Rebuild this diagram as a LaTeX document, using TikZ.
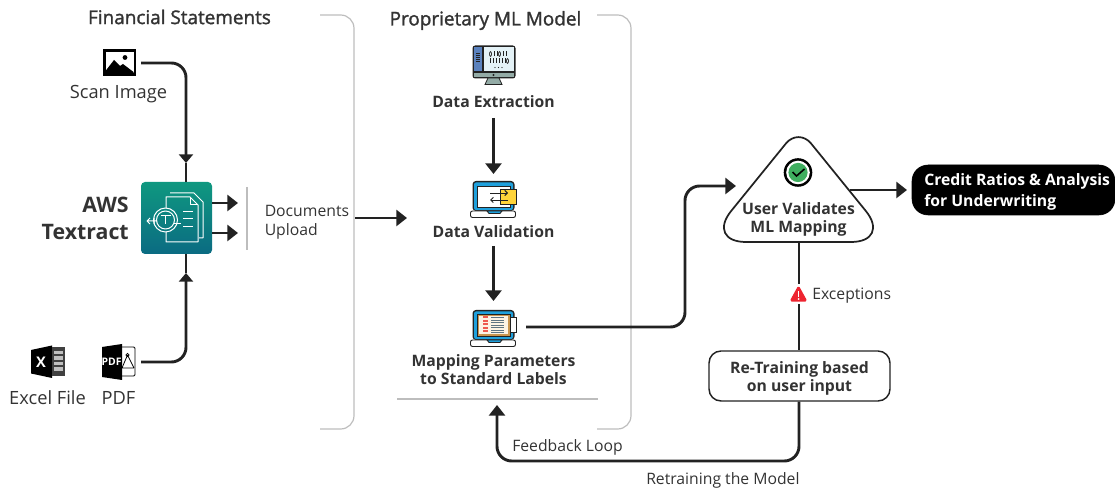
\documentclass[tikz,border=0pt]{standalone}
\usepackage{fontspec}
\setmainfont{Open Sans}
\newfontface\semi[FakeBold=1.5]{Open Sans}
\usetikzlibrary{arrows.meta}
\definecolor{ink}{HTML}{222222}
\definecolor{txt}{HTML}{333333}
\definecolor{rulegray}{HTML}{BDBDBD}
\definecolor{tealtop}{HTML}{0F9880}
\definecolor{tealbot}{HTML}{0B6B82}
\definecolor{scr}{HTML}{E4F2F7}
\definecolor{side}{HTML}{5B82BE}
\definecolor{base}{HTML}{93ABA6}
\definecolor{lapblue}{HTML}{1FA0DC}
\definecolor{yel}{HTML}{FFD43A}
\definecolor{tan}{HTML}{C9954F}
\definecolor{cream}{HTML}{FDF3E4}
\definecolor{redbar}{HTML}{EE5A4E}
\definecolor{slate}{HTML}{5F7482}
\definecolor{okgreen}{HTML}{3FAE5F}
\definecolor{warn}{HTML}{EE2430}
\newcommand{\fs}[1]{\fontsize{#1}{#1}\selectfont}
\tikzset{
  conn/.style={draw=ink,line width=2.2pt,rounded corners=11pt,-{Triangle[length=8pt,width=12pt]}},
  connsmall/.style={draw=ink,line width=2.2pt,rounded corners=11pt,-{Triangle[length=6.5pt,width=10.5pt]}},
  plain/.style={draw=ink,line width=2.2pt,rounded corners=11pt},
  brk/.style={draw=rulegray,line width=0.9pt,rounded corners=10pt},
  head/.style={font=\semi\fs{14.2},text=txt,inner sep=0pt},
  lab/.style={font=\fs{13.7},text=txt,inner sep=0pt},
  smalllab/.style={font=\fs{11.8},text=txt,inner sep=0pt},
  stepname/.style={font=\bfseries\fs{11.8},text=txt,inner sep=0pt,align=center},
}
\begin{document}
\begin{tikzpicture}[x=0.75pt,y=-0.75pt]
\useasboundingbox (0,0) rectangle (1115,491);
% brackets
\draw[brk] (320,15) -- (354,15) -- (354,429) -- (320,429);
\draw[brk] (597,15) -- (631,15) -- (631,429) -- (597,429);
\draw[rulegray,line width=0.9pt] (397,399) -- (598,399);
\draw[rulegray,line width=0.9pt] (247,187) -- (247,250);
% titles
\node[head] (tfin) at (179.5,17) {Financial Statements};
\node[head] (tml) at (485.5,20.5) {Proprietary ML Model};
% image icon
\coordinate (imgE) at (141,63);
\fill[black] (103,49.5) rectangle (136,76);
\fill[white] (105.5,52) rectangle (133.5,73.5);
\fill[black] (105.5,73.5) -- (105.5,71) -- (114,60) -- (120,66) -- (123,64) -- (133.5,72) -- (133.5,73.5) -- cycle;
\fill[black] (125,57.5) circle (2.4);
\node[lab] (scan) at (118.5,94.5) {Scan Image};
% AWS box
\shade[top color=tealtop,bottom color=tealbot,rounded corners=3pt] (141,182) rectangle (212,254);
\node[inner sep=0pt,minimum width=53.25pt,minimum height=54pt] (aws) at (176.5,218) {};
\begin{scope}[draw=white,line width=0.75pt,line join=round]
\draw (170,193) -- (194,193) -- (203,202) -- (203,238) -- (199,238);
\draw (166,208) -- (166,197) -- (190,197) -- (198,205) -- (198,242) -- (166,242) -- (166,232);
\draw (190,197) -- (190,205) -- (198,205);
\draw (165.5,220) circle (12);
\draw (165.5,220) circle (9);
\draw (160.5,215.5) -- (170.5,215.5) (165.5,215.5) -- (165.5,224);
\draw (174,224) -- (181,224);
\draw (183,212) -- (193,212) (183,219) -- (193,219) (183,227) -- (193,227);
\draw (147,221) -- (157,221) (150,218) -- (147,221) -- (150,224) (154,218) -- (154,224);
\end{scope}
\node[font=\bfseries\fs{16},text=txt,inner sep=0pt,anchor=east] (awsa) at (129,204.5) {AWS};
\node[font=\bfseries\fs{16},text=txt,inner sep=0pt,anchor=east] (awsb) at (129,231.5) {Textract};
% AWS in/out
\coordinate (inT) at (186,163);
\coordinate (inB) at (186,273);
\coordinate (awsT) at (186,182);
\coordinate (awsBt) at (186,254);
\coordinate (pdfE) at (141,362);
\draw[connsmall] (imgE) -- (inT |- imgE) -- (inT);
\draw[plain] (inT) -- (awsT);
\draw[connsmall] (pdfE) -- (inB |- pdfE) -- (inB);
\draw[plain] (inB) -- (awsBt);
\coordinate (o1) at (212,203); \coordinate (o1e) at (238,203);
\coordinate (o2) at (212,233); \coordinate (o2e) at (238,233);
\draw[conn] (o1) -- (o1e);
\draw[conn] (o2) -- (o2e);
\node[smalllab,anchor=west] (docs) at (264.5,210.5) {Documents};
\node[smalllab,anchor=west] (upl) at (264.5,231.5) {Upload};
\coordinate (uS) at (355,218); \coordinate (uE) at (407,218);
\draw[conn] (uS) -- (uE);
% Excel icon
\fill[black] (31,350) -- (52,345.5) -- (52,378) -- (31,373.5) -- cycle;
\fill[black!75] (52,347) rectangle (65,376);
\foreach \y in {351,356.5,362,367.5} \fill[black!25] (54,\y) rectangle (63,\y+3.5);
\node[font=\bfseries\fs{11},text=white,inner sep=0pt] (xl) at (41,362) {X};
\node[lab] (excel) at (47.5,398) {Excel File};
% PDF icon
\fill[black] (102,347) -- (122,344) -- (122,380) -- (102,377) -- cycle;
\draw[black,line width=0.7pt,rounded corners=1pt] (122,347) -- (135,347) -- (135,376) -- (122,376);
\draw[black,line width=0.6pt] (127.5,355) -- (122,368) -- (134,368) (127.5,355) -- (134,368);
\draw[black,line width=0.6pt] (127.5,355) circle (1.6);
\node[font=\bfseries\fs{7.8},text=white,inner sep=0pt] (pdft) at (111.5,362) {PDF};
\node[lab] (pdf) at (118.5,398) {PDF};
% Data extraction icon
\fill[ink,rounded corners=2pt] (472.5,45.5) rectangle (515.5,78.5);
\fill[scr] (484,47) rectangle (514,71);
\fill[side] (474,47) rectangle (482,71);
\fill[base] (474,73) rectangle (514,77);
\fill[base,draw=ink,line width=0.6pt] (488,78) -- (499,78) -- (502,84.5) -- (485,84.5) -- cycle;
\foreach \y in {53,55,57,59,61} \draw[ink,line width=0.5pt] (476,\y) -- (480,\y);
\foreach \x in {490.5,493.5,496.5,499.5,502.5,505.5} \draw[ink,line width=0.7pt] (\x,58.5) -- (\x,63.5);
\draw[ink,line width=0.5pt] (507.5,61) ellipse (1 and 2.4);
\draw[ink,line width=0.5pt] (490.5,54) ellipse (1 and 2.4);
\draw[ink,line width=0.5pt] (499.5,54) ellipse (1 and 2.4);
\foreach \x in {494,497,503,506} \draw[ink,line width=0.7pt] (\x,51.5) -- (\x,56.5);
\fill[ink] (495,67.5) circle (.6) (498.5,67.5) circle (.6) (502,67.5) circle (.6);
\fill[ink] (493.5,75) circle (1.2);
\node[stepname] (dext) at (493.5,101.5) {Data Extraction};
\coordinate (e1s) at (493.5,118); \coordinate (e1e) at (493.5,174);
\draw[conn] (e1s) -- (e1e);
% Data validation icon
\fill[ink,rounded corners=2.5pt] (472.5,181) rectangle (514.5,211);
\fill[lapblue,rounded corners=1.5pt] (474,182.5) rectangle (513,210);
\fill[white,draw=ink,line width=0.6pt] (477,186) rectangle (510,207);
\fill[yel,draw=ink,line width=0.7pt] (500,189) rectangle (516.5,204);
\draw[ink,line width=0.7pt,rounded corners=1.5pt,fill=white] (470.5,211) rectangle (515.5,217.5);
\fill[lapblue,draw=ink,line width=0.6pt] (487,211) -- (502,211) -- (500,213.5) -- (489,213.5) -- cycle;
\draw[ink,line width=0.7pt,-{Straight Barb[length=2pt,width=4pt]}] (490,193) -- (508,193);
\draw[ink,line width=0.7pt,-{Straight Barb[length=2pt,width=4pt]}] (508,200) -- (490,200);
\node[stepname] (dval) at (493.5,231.5) {Data Validation};
\coordinate (e2s) at (493.5,246); \coordinate (e2e) at (493.5,301);
\draw[conn] (e2s) -- (e2e);
% Mapping icon
\fill[ink,rounded corners=2.5pt] (472.5,310) rectangle (514.5,340);
\fill[lapblue,rounded corners=1.5pt] (474,311.5) rectangle (513,339);
\fill[tan,draw=ink,line width=0.5pt] (477,314) rectangle (510,336);
\fill[cream] (479,316) rectangle (508,334);
\fill[white,draw=ink,line width=0.7pt] (510.5,317.5) rectangle (516.5,332);
\draw[ink,line width=0.7pt,rounded corners=1.5pt,fill=white] (470.5,340) rectangle (515.5,346.5);
\fill[lapblue,draw=ink,line width=0.6pt] (487,340) -- (502,340) -- (500,342.5) -- (489,342.5) -- cycle;
\foreach \y in {317.5,321,324.5,328,331.5} \fill[redbar] (483,\y-1) rectangle (488,\y+1);
\foreach \y in {317.5,320,322.5,325,327.5,330,332.5} \draw[slate,line width=0.5pt] (491,\y) -- (504,\y);
\node[stepname] (dmap) at (493.5,369.5) {Mapping Parameters\\[1.7pt]to Standard Labels};
% Triangle
\coordinate (tA) at (798.5,128);
\coordinate (tR) at (891,242);
\coordinate (tL) at (706,242);
\coordinate (tB) at (798.5,242);
\draw[draw=ink,line width=1.3pt,fill=white,line join=round] (tB) [rounded corners=30pt] -- (tR) [rounded corners=15pt] -- (tA) [rounded corners=30pt] -- (tL) [sharp corners] -- cycle;
\fill[black] (798,172.5) circle (14.3);
\fill[white] (798,172.5) circle (11.8);
\fill[okgreen] (798,172.5) circle (9.6);
\draw[black,line width=1.2pt] (792.5,172) -- (796.5,176) -- (804.5,169);
\node[stepname] (uv) at (798.5,219.5) {User Validates\\[1.7pt]ML Mapping};
% credit box
\node[draw=black,fill=black,rounded corners=12pt,minimum width=152.25pt,minimum height=37.5pt,inner sep=0pt] (cr) at (1013.5,190) {};
\node[font=\bfseries\fs{11.8},text=white,inner sep=0pt,align=left,anchor=west] (crt) at (924,192) {Credit Ratios \& Analysis\\[2.4pt]for Underwriting};
% retrain box
\node[draw=ink,line width=1.1pt,fill=white,rounded corners=9pt,minimum width=135.75pt,minimum height=37.5pt,inner sep=0pt] (rt) at (799.5,376) {};
\node[stepname] (rtt) at (799.5,378.5) {Re-Training based\\[1.7pt]on user input};
% connectors right
\coordinate (mapE) at (526,327);
\coordinate (triW) at (736,186);
\draw[conn] (mapE) -- (685,327) -- (685,186) -- (triW);
\coordinate (triE) at (850,190);
\coordinate (crW) at (907,190);
\draw[conn] (triE) -- (crW);
\coordinate (triS) at (799,242);
\draw[plain] (triS) -- (rt.north -| triS);
\coordinate (fbE) at (497,405);
\draw[conn] (rt.south -| triS) -- (799,461) -- (497,461) -- (fbE);
% warning
\fill[white] (788,284) rectangle (809,304);
\fill[warn,rounded corners=1pt,draw=warn,line width=1pt,line join=round] (798.5,286.5) -- (806.5,301) -- (790.5,301) -- cycle;
\fill[white] (797.6,291) rectangle (799.4,296.8);
\fill[white] (798.5,299) circle (1);
\node[smalllab,anchor=west] (exc) at (812,296) {Exceptions};
\node[smalllab,anchor=west] (fbl) at (512,447) {Feedback Loop};
\node[smalllab,anchor=west] (rtm) at (646,480) {Retraining the Model};
\end{tikzpicture}
\end{document}
